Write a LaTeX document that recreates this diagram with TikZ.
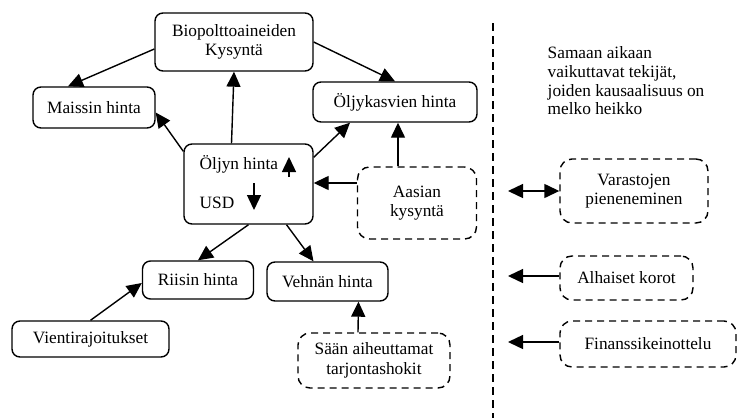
\documentclass[tikz,border=0pt]{standalone}
\usepackage{fontspec}
\setmainfont{Liberation Serif}
\usetikzlibrary{arrows.meta}

\tikzset{
  >={Triangle[length=15pt,width=14pt]},
  every node/.style={font=\fontsize{17.3}{19.5}\selectfont},
  box/.style={draw=black, rounded corners=8pt, inner sep=0pt, align=center},
  dbox/.style={box, rounded corners=12pt, dash pattern=on 7pt off 5pt},
}

\begin{document}
\begin{tikzpicture}[x=1pt, y=-1pt, line width=1.4pt]
        \useasboundingbox (0,0) rectangle (737,418);

        % vasen puoli
        \node (bio)[box, minimum width=158pt, minimum height=58pt] at (234,42) {Biopolttoaineiden\\Kysyntä};
        \node (maissi)[box, minimum width=122pt, minimum height=41pt] at (94,107.5) {Maissin hinta};
        \node (oljyk)[box, minimum width=164pt, minimum height=40pt] at (395,102) {Öljykasvien hinta};
        \node (oljyn)[box, minimum width=129pt, minimum height=80pt] at (248.5,184) {};
        \node (oljyn_txt)[anchor=west, inner sep=0pt] at (199,164) {Öljyn hinta};
        \node (usd_txt)[anchor=west, inner sep=0pt] at (199,203) {USD};
        \coordinate (up_a) at (289,177);
        \coordinate (up_b) at (289,157);
        \coordinate (down_a) at (254,183);
        \coordinate (down_b) at (254,210);
        \node (aasia)[dbox, minimum width=119pt, minimum height=72pt] at (417,203) {Aasian\\kysyntä};
        \node (riisi)[box, minimum width=111pt, minimum height=38pt] at (198,280) {Riisin hinta};
        \node (vehna)[box, minimum width=121pt, minimum height=39pt] at (327.5,281.5) {Vehnän hinta};
        \node (vienti)[box, minimum width=157pt, minimum height=36pt] at (90.5,339) {Vientirajoitukset};
        \node (saa)[dbox, minimum width=152pt, minimum height=55pt] at (374,360.5) {Sään aiheuttamat\\tarjontashokit};

        \path ([yshift=-7pt]bio.west) edge[->] ([xshift=-26pt]maissi.north);
        \path (bio.east) edge[->] (oljyk.north);
        \path ([xshift=-17pt]oljyn.north) edge[->] (bio.south);
        \path ([yshift=-8pt]oljyn.north west) edge[->] ([yshift=-5pt]maissi.east);
        \path ([yshift=-14pt]oljyn.north east) edge[->] ([xshift=-45pt]oljyk.south);
        \path ([xshift=-19pt]aasia.north) edge[->] ([xshift=3pt]oljyk.south);
        \path ([yshift=20pt]aasia.west) edge[->] ([yshift=1pt]oljyn.east);
        \path (oljyn.south) edge[->] (riisi.north);
        \path ([xshift=38pt]oljyn.south) edge[->] ([xshift=-14pt]vehna.north);
        \path (vienti.north) edge[->] ([yshift=-3pt]riisi.west);
        \path ([xshift=-16pt]saa.north) edge[->] ([xshift=31pt]vehna.south);
        \path (up_a) edge[->] (up_b);
        \path (down_a) edge[->] (down_b);

        % oikea puoli
        \coordinate (raja_top) at (493,23);
        \coordinate (raja_bot) at (493,418);
        \draw[dash pattern=on 8pt off 5pt] (raja_top) -- (raja_bot);
        \node (selite)[anchor=north west, inner sep=0pt, align=left, font=\fontsize{17.3}{18.7}\selectfont] at (547,46)
            {Samaan aikaan\\vaikuttavat tekijät,\\joiden kausaalisuus on\\melko heikko};
        \node (varasto)[dbox, minimum width=148pt, minimum height=64pt, font=\fontsize{17.3}{18.5}\selectfont] at (634,191) {Varastojen\\pieneneminen};
        \node (alhaiset)[dbox, minimum width=133pt, minimum height=44pt] at (626.5,278) {Alhaiset korot};
        \node (finanssi)[dbox, minimum width=176pt, minimum height=46pt] at (648,344) {Finanssikeinottelu};
        \coordinate (varasto_end) at (508,191);
        \coordinate (alhaiset_end) at (508,276);
        \coordinate (finanssi_end) at (508,342);

        \path (varasto.west) edge[<->] (varasto_end);
        \path ([yshift=2pt]alhaiset.west) edge[->] (alhaiset_end);
        \path ([yshift=2pt]finanssi.west) edge[->] (finanssi_end);
\end{tikzpicture}
\end{document}
